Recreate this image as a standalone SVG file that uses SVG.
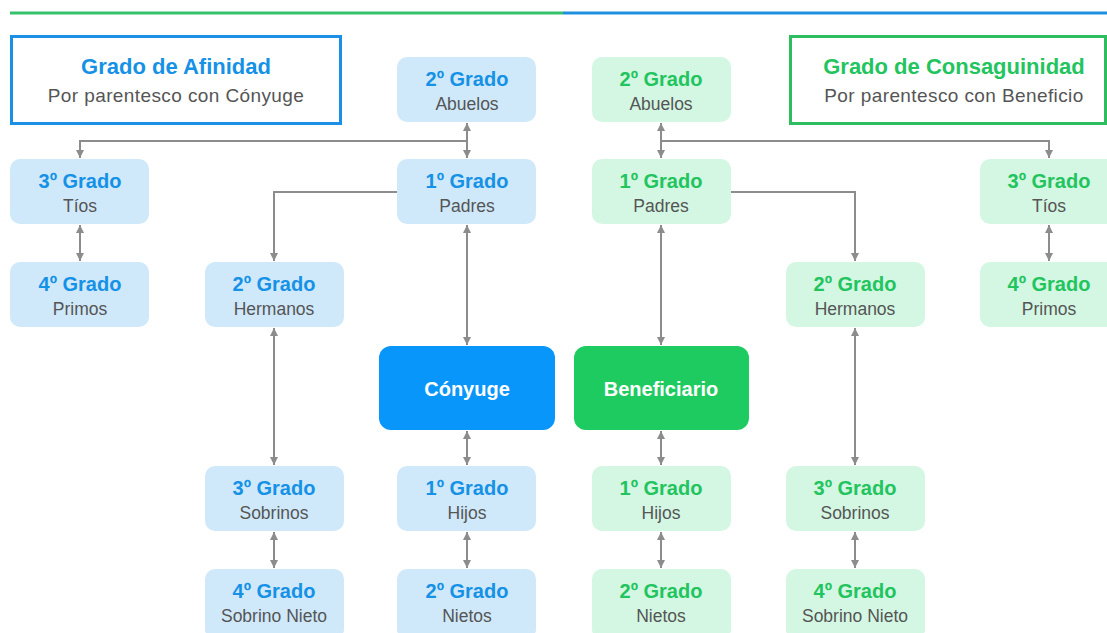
<svg xmlns="http://www.w3.org/2000/svg" width="1107" height="633" viewBox="0 0 1107 633">
<style>
.bn{fill:#cfe9fb}
.gn{fill:#d4f7e3}
.t{font-family:"Liberation Sans",Arial,sans-serif;font-weight:bold;font-size:20px;text-anchor:middle}
.bt{fill:#1591e6}
.gt{fill:#22c45e}
.l{font-family:"Liberation Sans",Arial,sans-serif;font-size:17.5px;fill:#555;text-anchor:middle}
.h{font-family:"Liberation Sans",Arial,sans-serif;font-weight:bold;font-size:22px;text-anchor:middle}
.hs{font-family:"Liberation Sans",Arial,sans-serif;font-size:19px;letter-spacing:0.4px;fill:#555;text-anchor:middle}
.c{fill:none;stroke:#8c8c8c;stroke-width:2}
.w{font-family:"Liberation Sans",Arial,sans-serif;font-weight:bold;font-size:20px;fill:#fff;text-anchor:middle}
</style>
<defs>
<marker id="a" markerUnits="userSpaceOnUse" markerWidth="9" markerHeight="8" refX="8" refY="4" orient="auto-start-reverse">
<path d="M0,0 L8,4 L0,8 z" fill="#8c8c8c"/>
</marker>
</defs>
<rect width="1107" height="633" fill="#fff"/>
<line x1="10" y1="13" x2="563" y2="13" stroke="#35c26a" stroke-width="3"/>
<line x1="563" y1="13" x2="1107" y2="13" stroke="#1f8fe0" stroke-width="3"/>

<g id="connectors">
<path class="c" d="M467,141 H80 V158" marker-end="url(#a)"/>
<path class="c" d="M467,123 V158" marker-start="url(#a)" marker-end="url(#a)"/>
<path class="c" d="M397,192 H274 V261" marker-end="url(#a)"/>
<path class="c" d="M467,225 V345" marker-start="url(#a)" marker-end="url(#a)"/>
<path class="c" d="M80,225 V261" marker-start="url(#a)" marker-end="url(#a)"/>
<path class="c" d="M274,328 V465" marker-start="url(#a)" marker-end="url(#a)"/>
<path class="c" d="M274,532 V568" marker-start="url(#a)" marker-end="url(#a)"/>
<path class="c" d="M467,431 V465" marker-start="url(#a)" marker-end="url(#a)"/>
<path class="c" d="M467,532 V568" marker-start="url(#a)" marker-end="url(#a)"/>
<path class="c" d="M661,141 H1049 V158" marker-end="url(#a)"/>
<path class="c" d="M661,123 V158" marker-start="url(#a)" marker-end="url(#a)"/>
<path class="c" d="M731,192 H855 V261" marker-end="url(#a)"/>
<path class="c" d="M661,225 V345" marker-start="url(#a)" marker-end="url(#a)"/>
<path class="c" d="M1049,225 V261" marker-start="url(#a)" marker-end="url(#a)"/>
<path class="c" d="M855,328 V465" marker-start="url(#a)" marker-end="url(#a)"/>
<path class="c" d="M855,532 V568" marker-start="url(#a)" marker-end="url(#a)"/>
<path class="c" d="M661,431 V465" marker-start="url(#a)" marker-end="url(#a)"/>
<path class="c" d="M661,532 V568" marker-start="url(#a)" marker-end="url(#a)"/>
</g>

<g id="afinidad">
<rect x="11.5" y="36.5" width="329" height="87" fill="#fff" stroke="#1a8fe3" stroke-width="3"/>
<text class="h bt" x="176" y="74">Grado de Afinidad</text>
<text class="hs" x="176" y="102">Por parentesco con Cónyuge</text>
</g>
<g id="consanguinidad">
<rect x="790.5" y="36.5" width="315" height="87" fill="#fff" stroke="#2dbd5f" stroke-width="3"/>
<text class="h gt" x="954" y="74">Grado de Consaguinidad</text>
<text class="hs" x="954" y="102">Por parentesco con Beneficio</text>
</g>

<g id="b-abuelos"><rect class="bn" x="397" y="57" width="139" height="65" rx="10"/><text class="t bt" x="467" y="86">2º Grado</text><text class="l" x="467" y="110">Abuelos</text></g>
<g id="b-tios"><rect class="bn" x="10" y="159" width="139" height="65" rx="10"/><text class="t bt" x="80" y="188">3º Grado</text><text class="l" x="80" y="212">Tíos</text></g>
<g id="b-padres"><rect class="bn" x="397" y="159" width="139" height="65" rx="10"/><text class="t bt" x="467" y="188">1º Grado</text><text class="l" x="467" y="212">Padres</text></g>
<g id="b-primos"><rect class="bn" x="10" y="262" width="139" height="65" rx="10"/><text class="t bt" x="80" y="291">4º Grado</text><text class="l" x="80" y="315">Primos</text></g>
<g id="b-hermanos"><rect class="bn" x="205" y="262" width="139" height="65" rx="10"/><text class="t bt" x="274" y="291">2º Grado</text><text class="l" x="274" y="315">Hermanos</text></g>
<g id="conyuge"><rect x="379" y="346" width="176" height="84" rx="12" fill="#0896fb"/><text class="w" x="467" y="396">Cónyuge</text></g>
<g id="b-sobrinos"><rect class="bn" x="205" y="466" width="139" height="65" rx="10"/><text class="t bt" x="274" y="495">3º Grado</text><text class="l" x="274" y="519">Sobrinos</text></g>
<g id="b-hijos"><rect class="bn" x="397" y="466" width="139" height="65" rx="10"/><text class="t bt" x="467" y="495">1º Grado</text><text class="l" x="467" y="519">Hijos</text></g>
<g id="b-sobrinonieto"><rect class="bn" x="205" y="569" width="139" height="70" rx="10"/><text class="t bt" x="274" y="598">4º Grado</text><text class="l" x="274" y="622">Sobrino Nieto</text></g>
<g id="b-nietos"><rect class="bn" x="397" y="569" width="139" height="70" rx="10"/><text class="t bt" x="467" y="598">2º Grado</text><text class="l" x="467" y="622">Nietos</text></g>

<g id="g-abuelos"><rect class="gn" x="592" y="57" width="139" height="65" rx="10"/><text class="t gt" x="661" y="86">2º Grado</text><text class="l" x="661" y="110">Abuelos</text></g>
<g id="g-padres"><rect class="gn" x="592" y="159" width="139" height="65" rx="10"/><text class="t gt" x="661" y="188">1º Grado</text><text class="l" x="661" y="212">Padres</text></g>
<g id="g-tios"><rect class="gn" x="980" y="159" width="139" height="65" rx="10"/><text class="t gt" x="1049" y="188">3º Grado</text><text class="l" x="1049" y="212">Tíos</text></g>
<g id="g-hermanos"><rect class="gn" x="786" y="262" width="139" height="65" rx="10"/><text class="t gt" x="855" y="291">2º Grado</text><text class="l" x="855" y="315">Hermanos</text></g>
<g id="g-primos"><rect class="gn" x="980" y="262" width="139" height="65" rx="10"/><text class="t gt" x="1049" y="291">4º Grado</text><text class="l" x="1049" y="315">Primos</text></g>
<g id="beneficiario"><rect x="574" y="346" width="175" height="84" rx="12" fill="#1ecb60"/><text class="w" x="661" y="396">Beneficiario</text></g>
<g id="g-hijos"><rect class="gn" x="592" y="466" width="139" height="65" rx="10"/><text class="t gt" x="661" y="495">1º Grado</text><text class="l" x="661" y="519">Hijos</text></g>
<g id="g-sobrinos"><rect class="gn" x="786" y="466" width="139" height="65" rx="10"/><text class="t gt" x="855" y="495">3º Grado</text><text class="l" x="855" y="519">Sobrinos</text></g>
<g id="g-nietos"><rect class="gn" x="592" y="569" width="139" height="70" rx="10"/><text class="t gt" x="661" y="598">2º Grado</text><text class="l" x="661" y="622">Nietos</text></g>
<g id="g-sobrinonieto"><rect class="gn" x="786" y="569" width="139" height="70" rx="10"/><text class="t gt" x="855" y="598">4º Grado</text><text class="l" x="855" y="622">Sobrino Nieto</text></g>
</svg>
